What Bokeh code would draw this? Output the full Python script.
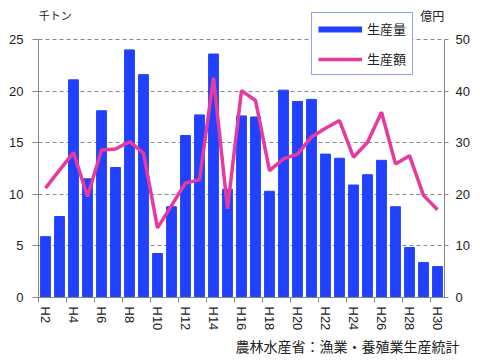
import math
from bokeh.plotting import figure
from bokeh.models import Range1d, LinearAxis, FixedTicker, Label, Legend, LegendItem, Title
from bokeh.embed import file_html
from bokeh.resources import INLINE

years = list(range(2, 31))
year_labels = {y: f"H{y}" for y in range(2, 31, 2)}
volume = [5.9, 7.85, 21.1, 11.5, 18.1, 12.6, 24.0, 21.6, 4.26, 8.8,
          15.7, 17.7, 23.6, 10.5, 17.6, 17.5, 10.3, 20.1, 19.0, 19.2,
          13.9, 13.5, 10.9, 11.9, 13.3, 8.8, 4.85, 3.4, 3.0]
value_oku = [21.2, 24.7, 28.1, 19.6, 28.6, 28.8, 30.2, 28.0, 13.5, 17.8,
             22.2, 22.8, 42.6, 17.2, 40.1, 38.2, 24.6, 26.9, 27.8, 31.1,
             32.8, 34.3, 27.2, 30.1, 35.9, 25.9, 27.5, 19.8, 17.0]

BLUE = "#2141FF"
PINK = "#E8399E"
AX = "#888888"
TXT = "#222222"
FONT = "Liberation Sans"
JP = "Noto Sans CJK JP"

YTOP = 28.4  # extra headroom above 25 for the unit labels and legend

p = figure(width=480, height=360, output_backend="svg", toolbar_location=None,
           x_range=Range1d(1.5, 30.5), y_range=Range1d(0, YTOP),
           min_border_left=38, min_border_right=36, min_border_top=4, min_border_bottom=63)
p.extra_y_ranges = {"right": Range1d(0, YTOP * 2)}
p.outline_line_color = None
p.xgrid.grid_line_color = None
p.ygrid.grid_line_color = AX
p.ygrid.grid_line_dash = "4 3"
p.ygrid.ticker = FixedTicker(ticks=[5, 10, 15, 20, 25])

bars = p.vbar(x=years, top=volume, width=0.7, color=BLUE)
line = p.line(x=years, y=value_oku, y_range_name="right", line_color=PINK, line_width=3.5)
# hidden renderer used only for the thick blue legend swatch
proxy = p.line(x=years, y=volume, line_color=BLUE, line_width=6, visible=False)

# axes
xa = p.xaxis[0]
xa.ticker = FixedTicker(ticks=list(range(2, 31, 2)), minor_ticks=[v + 0.5 for v in range(1, 31, 2)])
xa.major_label_overrides = year_labels
xa.major_label_orientation = -math.pi / 2
xa.major_tick_out = 0
xa.major_tick_in = 0
xa.minor_tick_out = 5
xa.minor_tick_in = 0
xa.minor_tick_line_color = AX
xa.axis_line_color = AX
xa.major_label_text_font = FONT
xa.major_label_text_font_size = "13px"
xa.major_label_text_color = TXT
xa.major_label_standoff = 4

ya = p.yaxis[0]
ya.ticker = FixedTicker(ticks=[0, 5, 10, 15, 20, 25])
ya.bounds = (0, 25)
ya.axis_line_color = AX
ya.major_tick_line_color = AX
ya.major_tick_out = 6
ya.major_tick_in = 0
ya.minor_tick_line_color = None
ya.major_label_text_font = FONT
ya.major_label_text_font_size = "13px"
ya.major_label_text_color = TXT
ya.major_label_standoff = 9

ra = LinearAxis(y_range_name="right", ticker=FixedTicker(ticks=[0, 10, 20, 30, 40, 50]), bounds=(0, 50))
ra.axis_line_color = AX
ra.major_tick_line_color = AX
ra.major_tick_out = 4
ra.major_tick_in = 0
ra.minor_tick_line_color = None
ra.major_label_text_font = FONT
ra.major_label_text_font_size = "13px"
ra.major_label_text_color = TXT
ra.major_label_standoff = 7
p.add_layout(ra, "right")

# unit labels (inside the extended frame) and source
p.add_layout(Label(x=1.52, y=27.4, text="千トン", text_font=JP, text_font_size="11px",
                   text_baseline="middle", text_color=TXT))
p.add_layout(Label(x=30.48, y=27.33, text="億円", text_font=JP, text_font_size="12px",
                   text_align="right", text_baseline="middle", text_color=TXT))
p.add_layout(Title(text="農林水産省：漁業・養殖業生産統計", align="right", offset=-15,
                   text_font=JP, text_font_size="14px", text_font_style="normal",
                   text_color=TXT, standoff=0), "below")

legend = Legend(items=[LegendItem(label="生産量", renderers=[proxy]),
                       LegendItem(label="生産額", renderers=[line])],
                location=(273, 222), border_line_color=BLUE, border_line_width=1,
                background_fill_color="white", background_fill_alpha=1,
                label_text_font=JP, label_text_font_size="13px", label_text_color=TXT,
                glyph_width=44, glyph_height=14, label_height=14, spacing=11,
                padding=6, margin=0, label_standoff=5)
p.add_layout(legend)

open("out.html", "w").write(file_html(p, INLINE))
